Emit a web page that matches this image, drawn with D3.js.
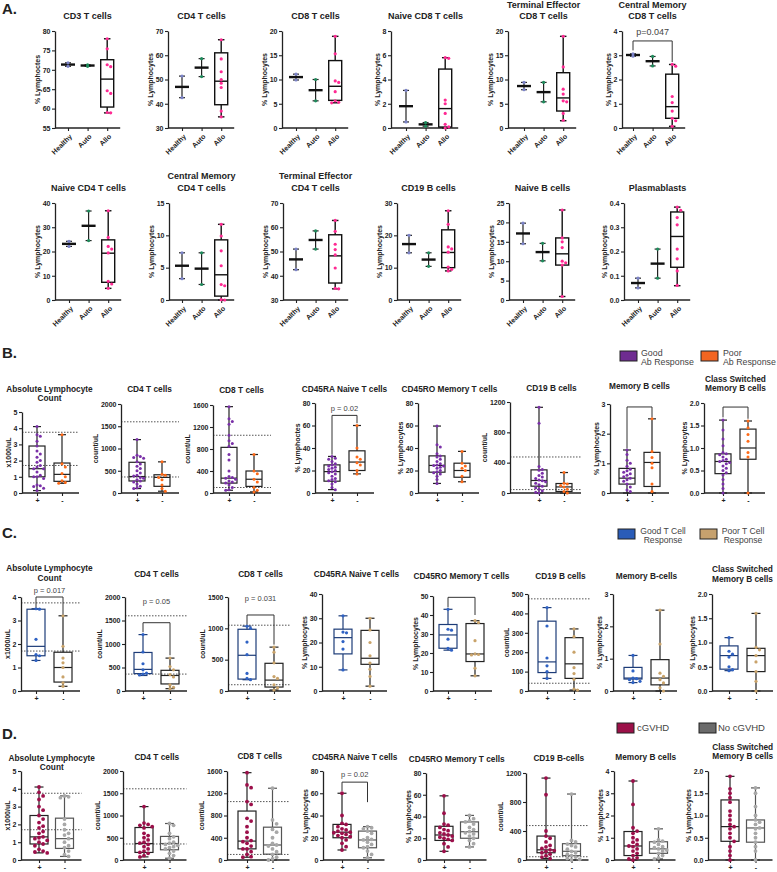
<!DOCTYPE html>
<html>
<head>
<meta charset="utf-8">
<script src="https://cdn.jsdelivr.net/npm/d3@7"></script>
<style>
  body { margin: 0; background: #fff; }
</style>
</head>
<body>
<script>
// ---------Panel A: Healthy / Auto / Allo----------

const aCats = ["Healthy", "Auto", "Allo"];
const aTitles = [["CD3 T cells"], ["CD4 T cells"], ["CD8 T cells"], ["Naive CD8 T cells"], ["Terminal Effector", "CD8 T cells"], ["Central Memory", "CD8 T cells"],
  ["Naive CD4 T cells"], ["Central Memory", "CD4 T cells"], ["Terminal Effector", "CD4 T cells"], ["CD19 B cells"], ["Naive B cells"], ["Plasmablasts"]];
const aYLabels = ["% Lymphoctes", "% Lymphocytes", "% Lymphocytes", "% Lymphocytes", "% Lymphocytes", "% Lymphocytes",
  "% Lymphocytes", "% Lymphocytes", "% Lymphocytes", "% Lymphocytes", "% Lymphocytes", "% Lymphocytes"];
const aDomains = [[55, 80], [30, 70], [0, 20], [0, 8], [0, 20], [0, 4], [0, 40], [0, 15], [30, 70], [0, 30], [0, 25], [0, 0.4]];
const aSteps = [5, 10, 5, 2, 5, 1, 10, 5, 10, 10, 5, 0.1];
const aHealthy = [[71.8, 70.9], [51.4, 42.5], [11.1, 9.9], [3.1, 0.5], [9.4, 7.9], [3.06, 2.96],
  [24.2, 22.1], [7.3, 3.3], [51, 42.5], [20, 14.6], [19.8, 14.5], [0.09, 0.05]];
const aAuto = [[71.3, 70.9], [58.6, 51.2], [10.0, 5.6], [0.45, 0.15], [9.4, 5.4], [2.95, 2.56],
  [36.7, 24.5], [7.3, 2.4], [58.5, 51], [14.6, 10.4], [14.6, 10.1], [0.21, 0.09]];
// min, q1, median, q3, max
const aAlloBox = [[58.9, 60.4, 67.6, 72.6, 78.0], [34.6, 39.6, 49.3, 61, 66.4], [5.2, 5.7, 8.6, 13.9, 18.9], [0, 0.08, 1.6, 4.86, 5.8],
  [1.5, 3.5, 6.2, 11.4, 18.9], [0.07, 0.4, 0.88, 2.22, 2.62], [4.8, 7.3, 19.3, 24.8, 36.8], [0, 0.6, 3.9, 9.3, 11.7],
  [34.6, 37, 48.2, 56.9, 62.8], [9, 10, 14.7, 21.7, 27.6], [0.9, 9, 11.9, 16, 23.2], [0.059, 0.135, 0.262, 0.363, 0.383]];
const aAllo = [[78.0, 75.4, 71.3, 70.8, 64.6, 63.9, 59.0, 58.9], [66.4, 58.5, 53.2, 50.0, 48.5, 46.7, 37.0, 34.6],
  [18.9, 15.3, 9.7, 9.4, 7.5, 5.6, 5.3, 5.2], [5.8, 5.75, 2.3, 2.0, 1.2, 0.3, 0.1, 0.0],
  [18.9, 12.6, 8.0, 7.0, 5.6, 5.4, 3.0, 1.6], [2.62, 2.55, 1.3, 1.05, 0.7, 0.4, 0.3, 0.07],
  [36.8, 25.8, 22.1, 21.0, 19.4, 7.7, 6.6, 4.8], [11.7, 9.9, 7.6, 5.3, 2.4, 2.2, 0.05, 0],
  [62.8, 58.3, 53.0, 50.8, 48.6, 43.2, 34.8, 34.6], [27.6, 23.4, 16.4, 15.8, 14.8, 10.2, 9.5, 9.0],
  [23.2, 16.0, 15.0, 13.5, 10.0, 9.6, 9.0, 0.9], [0.383, 0.37, 0.34, 0.31, 0.21, 0.17, 0.12, 0.06]];
const aBrackets = [null, null, null, null, null, { from: "Healthy", to: "Allo", y: 3.59, y1: 3.2, y2: 2.72, ty: 3.84, text: "p=0.047" },
  null, null, null, null, null, null];

// ---------Panel B: Ab response----------

const bTitles = [["Absolute Lymphocyte", "Count"], ["CD4 T cells"], ["CD8 T cells"], ["CD45RA Naive T cells"], ["CD45RO Memory T cells"], ["CD19 B cells"], ["Memory B cells"], ["Class Switched", "Memory B cells"]];
const bYLabels = ["x1000/uL", "count/uL", "count/uL", "% Lymphoctes", "% Lymphocytes", "count/uL", "% Lymphocytes", "% Lymphocytes"];
const bDomains = [[0, 5], [0, 2000], [0, 1600], [0, 80], [0, 80], [0, 1200], [0, 3], [0, 2]];
const bSteps = [1, 500, 400, 20, 20, 400, 1, 0.5];
const bRefLines = [[3.75, 1.7], [1600, 360], [1050, 100], [], [], [475, 45], [], []];
const bGoodBox = [[0.15, 1.0, 1.5, 2.9, 4.1], [100, 270, 370, 690, 1200], [50, 180, 270, 830, 1570], [3, 10.5, 19, 25, 32.5],
  [8.5, 18.5, 24.5, 33, 59.5], [0, 90, 165, 305, 1130], [0, 0.3, 0.5, 0.83, 1.45], [0, 0.43, 0.7, 0.87, 1.62]];
const bGoodPts = [
  [4.1, 3.6, 3.5, 3.2, 2.9, 2.6, 2.4, 2.2, 2.0, 1.9, 1.7, 1.6, 1.5, 1.5, 1.3, 1.1, 1.0, 1.0, 0.9, 0.5, 0.45, 0.4, 0.3, 0.15],
  [1200, 850, 820, 800, 780, 700, 650, 600, 550, 500, 450, 400, 380, 350, 330, 300, 270, 250, 200, 150, 120, 100],
  [1570, 1350, 1300, 1250, 1050, 950, 900, 850, 700, 600, 400, 300, 280, 270, 250, 220, 200, 180, 150, 100, 60, 50],
  [32.5, 31, 30, 28, 26, 25, 24, 23, 22, 21, 20, 19, 18, 17, 15, 13, 12, 11, 10, 8, 5, 3],
  [59.5, 43, 41, 35, 33, 32, 30, 28, 26, 25, 24.5, 24, 23, 22, 20, 19, 18, 17, 15, 12, 8.5],
  [1130, 920, 350, 310, 300, 260, 230, 210, 190, 170, 160, 150, 130, 110, 90, 70, 50, 30, 10, 0],
  [1.45, 1.3, 1.1, 1.0, 0.9, 0.8, 0.75, 0.7, 0.65, 0.6, 0.55, 0.5, 0.45, 0.4, 0.3, 0.2, 0.1, 0.05],
  [1.62, 1.4, 1.2, 1.05, 0.9, 0.87, 0.85, 0.8, 0.75, 0.72, 0.7, 0.68, 0.65, 0.6, 0.55, 0.5, 0.45, 0.4, 0.3, 0.2, 0.1, 0]];
const bPoorBox = [[0.6, 0.72, 1.15, 1.85, 3.6], [40, 150, 350, 410, 700], [20, 120, 250, 400, 700], [17, 20, 27.5, 37.5, 60],
  [10, 14, 20, 26.5, 37], [0, 20, 80, 125, 270], [0, 0.22, 1.03, 1.37, 2.5], [0, 0.75, 1.0, 1.42, 1.6]];
const bPoorPts = [[3.6, 1.8, 1.6, 1.2, 1.0, 0.75, 0.65, 0.6], [700, 420, 400, 350, 300, 180, 100, 40], [700, 400, 350, 250, 200, 100, 50, 20],
  [60, 40, 32, 30, 27, 25, 20, 17], [37, 26.5, 24, 22, 20, 15, 10], [270, 130, 120, 100, 80, 50, 20, 0],
  [2.5, 1.4, 1.2, 1.0, 0.85, 0.3, 0.05], [1.6, 1.45, 1.3, 1.15, 0.9, 0.8, 0]];
const bBrackets = [null, null, null, { y: 69, y1: 34, y2: 62, ty: 72.9, text: "p = 0.02" }, null, null,
  { y: 2.9, y1: 1.5, y2: 2.55, ty: 0, text: "" }, { y: 1.91, y1: 1.68, y2: 1.65, ty: 0, text: "" }];

// ---------Panel C: T cell response----------

const cTitles = [["Absolute Lymphocyte", "Count"], ["CD4 T cells"], ["CD8 T cells"], ["CD45RA Naive T cells"], ["CD45RO Memory T cells"], ["CD19 B cells"], ["Memory B-cells"], ["Class Switched", "Memory B cells"]];
const cYLabels = ["x1000/uL", "count/uL", "count/uL", "% Lymphocytes", "% Lymphocytes", "count/uL", "% Lymphocytes", "% Lymphocytes"];
const cDomains = [[0, 4], [0, 2000], [0, 1500], [0, 40], [0, 50], [0, 500], [0, 3], [0, 2]];
const cSteps = [1, 500, 500, 10, 10, 100, 1, 0.5];
const cRefLines = [[3.75, 1.7], [1600, 360], [1050, 100], [], [], [475, 40], [], []];
const cGoodBox = [[1.3, 1.5, 1.9, 3.48, 3.5], [330, 370, 460, 820, 1200], [180, 190, 570, 985, 1035], [8.7, 15.3, 22, 25.5, 31],
  [21.5, 22.5, 29.5, 35, 43], [65, 95, 150, 360, 430], [0.26, 0.37, 0.4, 0.73, 1.1], [0.42, 0.45, 0.73, 0.93, 1.1]];
const cGoodPts = [[3.5, 3.48, 2.2, 1.55, 1.5, 1.3], [1200, 830, 580, 450, 380, 360, 340], [1035, 1000, 780, 580, 280, 200, 180],
  [31, 24.3, 24.0, 20.4, 17.3, 8.7], [43, 32.5, 32, 27.3, 22.4, 21.5], [430, 335, 170, 130, 100, 65],
  [1.1, 0.62, 0.4, 0.38, 0.35, 0.3, 0.26], [1.1, 0.82, 0.76, 0.7, 0.5, 0.44, 0.42]];
const cPoorBox = [[0.2, 0.38, 1.0, 1.65, 3.2], [50, 150, 330, 440, 700], [16, 63, 174, 442, 700], [2, 11, 13.5, 25, 30],
  [8, 15.5, 19.5, 35.5, 37], [5, 65, 140, 275, 320], [0, 0.19, 0.4, 0.97, 2.5], [0, 0.4, 0.73, 0.88, 1.6]];
const cPoorPts = [[3.2, 1.9, 1.4, 1.2, 1.0, 0.6, 0.35, 0.2], [700, 520, 450, 350, 300, 130, 80, 50], [700, 620, 450, 230, 200, 100, 50, 16],
  [30, 25.2, 20, 14.5, 11.5, 9, 6, 2], [37, 36, 26.5, 19.5, 19.2, 19, 12, 8], [320, 280, 200, 120, 90, 60, 10, 5],
  [2.5, 1.45, 0.55, 0.45, 0.35, 0.25, 0.1, 0], [1.6, 0.9, 0.85, 0.73, 0.6, 0.4, 0.2, 0]];
const cBrackets = [{ y: 4.0, y1: 3.55, y2: 3.25, ty: 4.17, text: "p = 0.017" }, { y: 1453, y1: 1250, y2: 760, ty: 1851, text: "p = 0.05" },
  { y: 1213, y1: 1060, y2: 740, ty: 1436, text: "p = 0.031" }, null, { y: 49.3, y1: 44, y2: 40, ty: 0, text: "" }, null, null, null];

// ---------Panel D: cGVHD----------

const dTitles = [["Absolute Lymphocyte", "Count"], ["CD4 T cells"], ["CD8 T cells"], ["CD45RA Naive T cells"], ["CD45RO Memory T cells"], ["CD19 B-cells"], ["Memory B cells"], ["Class Switched", "Memory B cells"]];
const dYLabels = ["x1000/uL", "count/uL", "count/uL", "% Lymphocytes", "% Lymphocytes", "count/uL", "% Lymphocytes", "% Lymphocytes"];
const dDomains = [[0, 5], [0, 2000], [0, 1600], [0, 80], [0, 80], [0, 1200], [0, 4], [0, 2]];
const dSteps = [1, 500, 400, 20, 20, 400, 1, 0.5];
const dRefLines = [[3.75, 1.7], [1600, 360], [1050, 100], [], [], [475, 45], [], []];
const dGvhdBox = [[0.4, 0.9, 1.3, 2.5, 4.1], [70, 170, 370, 730, 1200], [50, 200, 340, 880, 1570], [9, 20, 25, 32, 60],
  [8, 18, 23, 31, 59], [20, 100, 140, 330, 1130], [0, 0.2, 0.63, 1.28, 3.55], [0, 0.42, 0.75, 1.35, 1.88]];
const dGvhdPts = [
  [4.1, 3.8, 3.6, 3.4, 3.0, 2.8, 2.5, 2.3, 2.1, 1.9, 1.8, 1.6, 1.5, 1.3, 1.25, 1.2, 1.1, 1.0, 0.9, 0.8, 0.6, 0.5, 0.45, 0.4],
  [1200, 830, 800, 780, 750, 720, 600, 550, 500, 450, 400, 380, 350, 300, 250, 200, 170, 150, 100, 70],
  [1570, 1350, 1300, 1050, 1000, 750, 700, 600, 500, 400, 350, 330, 300, 250, 200, 200, 150, 100, 60, 50],
  [60, 40, 33, 32, 30, 28, 27, 26, 25, 24.5, 24, 23, 22, 21, 20, 18, 15, 12, 9],
  [59, 43, 33, 32, 30, 28, 27, 25, 24, 23, 22, 21, 20, 19, 18, 15, 12, 8],
  [1130, 900, 400, 330, 300, 250, 200, 180, 160, 140, 130, 120, 100, 80, 60, 40, 20],
  [3.55, 2.5, 1.45, 1.3, 1.2, 1.0, 0.9, 0.8, 0.7, 0.63, 0.6, 0.5, 0.4, 0.3, 0.2, 0.1, 0.05, 0],
  [1.88, 1.6, 1.5, 1.4, 1.3, 1.1, 1.0, 0.9, 0.8, 0.75, 0.7, 0.6, 0.5, 0.42, 0.3, 0.2, 0.1, 0]];
const dNoBox = [[0.2, 0.65, 1.2, 2.35, 3.6], [40, 230, 370, 530, 820], [0, 105, 270, 590, 1290], [2, 11, 18, 26, 30],
  [12, 20, 26, 35, 41], [0, 60, 120, 225, 910], [0.05, 0.3, 0.5, 0.82, 1.4], [0, 0.4, 0.72, 0.9, 1.62]];
const dNoPts = [
  [3.6, 3.55, 3.5, 2.3, 2.0, 1.7, 1.5, 1.4, 1.2, 1.0, 0.8, 0.7, 0.5, 0.3, 0.2],
  [820, 780, 600, 520, 480, 400, 380, 350, 330, 300, 280, 250, 200, 150, 100, 40],
  [1290, 720, 650, 550, 500, 400, 300, 270, 250, 200, 150, 100, 50, 20, 0],
  [30, 29, 28, 26, 24, 20, 18.5, 18, 16, 14, 12, 11, 8, 5, 2],
  [41, 38, 36, 35, 33, 30, 28, 26, 25, 24, 22, 20, 18, 15, 12],
  [910, 270, 250, 220, 200, 180, 150, 120, 100, 80, 60, 40, 20, 10, 0],
  [1.4, 0.9, 0.85, 0.8, 0.7, 0.6, 0.55, 0.5, 0.45, 0.4, 0.3, 0.2, 0.1, 0.05],
  [1.62, 1.5, 1.2, 1.0, 0.9, 0.85, 0.8, 0.72, 0.7, 0.6, 0.5, 0.4, 0.3, 0.2, 0]];
const dBrackets = [null, null, null, { y: 70, y1: 62, y2: 52, ty: 74.5, text: "p = 0.02" }, null, null, null, null];

// ---------Layout----------

const FONT = '"Liberation Sans", Arial, Helvetica, sans-serif';
const INK = "#222";

const svg = d3.select("body")
  .append("svg")
  .attr("width", 777)
  .attr("height", 872)
  .style("font-family", FONT);

function drawTitle(g, lines, cx, base, lh, size) {
  lines.forEach((t, k) => {
    g.append("text")
      .attr("x", cx)
      .attr("y", base - (lines.length - 1 - k) * lh)
      .attr("text-anchor", "middle")
      .attr("font-weight", "bold")
      .attr("font-size", size)
      .attr("fill", INK)
      .text(t);
  });
}

function yAxis(g, y, x0, domain, step, label) {
  const ticks = d3.range(domain[0], domain[1] + step / 2, step);
  const fmt = step < 1 ? d3.format(".1f") : d3.format("d");
  const ax = g.append("g")
    .attr("transform", `translate(${x0},0)`)
    .call(d3.axisLeft(y).tickValues(ticks).tickFormat(fmt).tickSize(3).tickSizeOuter(0))
    .attr("font-family", FONT)
    .attr("font-size", 7)
    .attr("font-weight", "bold");
  ax.select(".domain").attr("stroke", INK).attr("stroke-width", 1.3);
  ax.selectAll(".tick line").attr("stroke", INK).attr("stroke-width", 1.1);
  ax.selectAll(".tick text").attr("fill", INK).attr("x", -4.5);
  const bb = ax.node().getBBox();
  g.append("text")
    .attr("transform", `translate(${x0 + bb.x - 3},${(y.range()[0] + y.range()[1]) / 2}) rotate(-90)`)
    .attr("text-anchor", "middle")
    .attr("font-weight", "bold")
    .attr("font-size", 7)
    .attr("fill", INK)
    .text(label);
}

function xAxis(g, x, x0, xEnd, bottom, rotated) {
  const ax = g.append("g")
    .attr("transform", `translate(0,${bottom})`)
    .call(d3.axisBottom(x).tickSize(3).tickSizeOuter(0))
    .attr("font-family", FONT)
    .attr("font-size", 7)
    .attr("font-weight", "bold");
  ax.select(".domain").remove();
  ax.selectAll(".tick line").attr("stroke", INK).attr("stroke-width", 1.1);
  ax.selectAll(".tick text").attr("fill", INK);
  if (rotated) {
    ax.selectAll(".tick text")
      .attr("x", 0).attr("y", 0).attr("dy", 0)
      .attr("transform", "translate(4,9) rotate(-45)")
      .attr("text-anchor", "end");
  } else {
    ax.selectAll(".tick text").attr("y", 5);
  }
  g.append("line")
    .attr("x1", x0).attr("x2", xEnd)
    .attr("y1", bottom).attr("y2", bottom)
    .attr("stroke", INK).attr("stroke-width", 1.3);
}

function drawBox(g, cx, y, s, bw, stroke, sw) {
  const [mn, q1, md, q3, mx] = s;
  const cap = bw * 0.5;
  const st = sel => sel.attr("stroke", stroke).attr("stroke-width", sw).attr("fill", "none");
  st(g.append("line").attr("x1", cx).attr("x2", cx).attr("y1", y(q3)).attr("y2", y(mx)));
  st(g.append("line").attr("x1", cx).attr("x2", cx).attr("y1", y(q1)).attr("y2", y(mn)));
  [mx, mn].forEach(v => st(g.append("line").attr("x1", cx - cap / 2).attr("x2", cx + cap / 2).attr("y1", y(v)).attr("y2", y(v))));
  st(g.append("rect").attr("x", cx - bw / 2).attr("y", y(q3)).attr("width", bw).attr("height", y(q1) - y(q3)));
  st(g.append("line").attr("x1", cx - bw / 2).attr("x2", cx + bw / 2).attr("y1", y(md)).attr("y2", y(md)));
}

// simple deterministic dodge so equal values sit side by side
function dodge(vals, y, cx, r, maxOff) {
  const placed = [];
  const gap = 2 * r + 0.3;
  return vals.map(v => {
    const py = y(v);
    let off = 0;
    for (let k = 0; k < 24; k++) {
      const cand = k === 0 ? 0 : (k % 2 ? 1 : -1) * Math.ceil(k / 2) * gap;
      if (Math.abs(cand) > maxOff) break;
      if (placed.every(p => Math.hypot(p[0] - cand, p[1] - py) >= gap)) { off = cand; break; }
    }
    placed.push([off, py]);
    return [cx + off, py];
  });
}

function drawPoints(g, vals, y, cx, r, maxOff, color) {
  g.selectAll(null)
    .data(dodge(vals, y, cx, r, maxOff))
    .enter()
    .append("circle")
    .attr("cx", d => d[0])
    .attr("cy", d => d[1])
    .attr("r", r)
    .attr("fill", color);
}

function drawBracket(g, x1, x2, y, b, size) {
  g.append("path")
    .attr("d", `M${x1},${y(b.y1)}V${y(b.y)}H${x2}V${y(b.y2)}`)
    .attr("fill", "none")
    .attr("stroke", "#333")
    .attr("stroke-width", 1);
  if (b.text) {
    g.append("text")
      .attr("x", (x1 + x2) / 2)
      .attr("y", y(b.ty))
      .attr("text-anchor", "middle")
      .attr("font-size", size)
      .attr("fill", "#444")
      .text(b.text);
  }
}

function panelLabel(t, yb) {
  svg.append("text").attr("x", 2).attr("y", yb)
    .attr("font-size", 15).attr("font-weight", "bold").attr("fill", INK).text(t);
}

// ---------Draw panel A----------

const aAxisX = [55, 168, 282, 391, 508, 622, 55, 169, 283, 397, 509, 624];
const aFirstX = [68, 182, 296, 406, 524, 633, 69, 182, 296, 409, 523, 638];
const aStep = 19.6;
const aTop = [31, 203], aBottom = [128, 300], aTitleBase = [18.5, 190.5];
const aColors = { Healthy: "#7c84c9", Auto: "#1f8b5c", Allo: "#ff2a93" };

panelLabel("A.", 14);

aTitles.forEach((title, i) => {
  const row = i < 6 ? 0 : 1;
  const g = svg.append("g");
  const x = d3.scalePoint().domain(aCats).range([aFirstX[i], aFirstX[i] + 2 * aStep]);
  const y = d3.scaleLinear().domain(aDomains[i]).range([aBottom[row], aTop[row]]);

  drawTitle(g, title, x("Auto"), aTitleBase[row], row === 0 ? 11 : 11.5, 9);
  yAxis(g, y, aAxisX[i], aDomains[i], aSteps[i], aYLabels[i]);
  xAxis(g, x, aAxisX[i], x("Allo") + 13, aBottom[row], true);

  // mean with range for the two-sample groups
  [["Healthy", aHealthy[i]], ["Auto", aAuto[i]]].forEach(([cat, vals]) => {
    const cx = x(cat);
    const lo = d3.min(vals), hi = d3.max(vals), m = d3.mean(vals);
    g.append("line").attr("x1", cx).attr("x2", cx).attr("y1", y(lo)).attr("y2", y(hi)).attr("stroke", INK).attr("stroke-width", 1.2);
    [lo, hi].forEach(v => g.append("line").attr("x1", cx - 3).attr("x2", cx + 3).attr("y1", y(v)).attr("y2", y(v)).attr("stroke", INK).attr("stroke-width", 1.2));
    g.append("line").attr("x1", cx - 7).attr("x2", cx + 7).attr("y1", y(m)).attr("y2", y(m)).attr("stroke", "#111").attr("stroke-width", 2.4);
    drawPoints(g, vals, y, cx, 1.6, 3, aColors[cat]);
  });

  drawBox(g, x("Allo"), y, aAlloBox[i], 13, "#111", 1.4);
  drawPoints(g, aAllo[i], y, x("Allo"), 1.6, 5, aColors.Allo);

  if (aBrackets[i]) {
    const b = aBrackets[i];
    drawBracket(g, x(b.from), x(b.to), y, b, 9);
  }
});

// ---------Draw panels B, C, D----------

function groupPanel(P) {
  P.titles.forEach((title, i) => {
    const g = svg.append("g");
    const y = d3.scaleLinear().domain(P.domains[i]).range([P.bottom, P.tops[i]]);
    const x = d3.scalePoint().domain(["+", "-"]).range([P.plusX[i], P.plusX[i] + P.step]);
    const xEnd = x("-") + 17;

    drawTitle(g, title, (x("+") + x("-")) / 2, P.titleBase[i], P.lh, 8.3);

    P.refs[i].forEach(v => {
      g.append("line")
        .attr("x1", P.axisX[i]).attr("x2", xEnd)
        .attr("y1", y(v)).attr("y2", y(v))
        .attr("stroke", "#555").attr("stroke-width", 1)
        .attr("stroke-dasharray", "1.5,1.5");
    });

    drawBox(g, x("+"), y, P.box1[i], P.bw, P.stroke1, 1.2);
    drawBox(g, x("-"), y, P.box2[i], P.bw, P.stroke2, 1.2);

    yAxis(g, y, P.axisX[i], P.domains[i], P.steps[i], P.yLabels[i]);
    xAxis(g, x, P.axisX[i], xEnd, P.bottom, false);

    drawPoints(g, P.pts1[i], y, x("+"), P.r, P.bw / 2, P.col1);
    drawPoints(g, P.pts2[i], y, x("-"), P.r, P.bw / 2, P.col2);

    if (P.brackets[i]) drawBracket(g, x("+"), x("-"), y, P.brackets[i], 7.5);
  });
}

function legendItem(x, y, fill, lines, anchorX, anchor, base, lh, size) {
  svg.append("rect").attr("x", x).attr("y", y).attr("width", 17).attr("height", 10)
    .attr("fill", fill).attr("stroke", INK).attr("stroke-width", 1);
  lines.forEach((t, k) => {
    svg.append("text").attr("x", anchorX).attr("y", base + k * lh)
      .attr("text-anchor", anchor).attr("font-size", size).attr("fill", "#444").text(t);
  });
}

// B
panelLabel("B.", 358);
legendItem(620, 351, "#6f2c91", ["Good", "Ab Response"], 641, "start", 356, 9, 8.8);
legendItem(701, 351, "#f26522", ["Poor", "Ab Response"], 723, "start", 356, 9, 8.8);
groupPanel({
  titles: bTitles, yLabels: bYLabels, domains: bDomains, steps: bSteps, refs: bRefLines,
  box1: bGoodBox, pts1: bGoodPts, box2: bPoorBox, pts2: bPoorPts, brackets: bBrackets,
  axisX: [22, 121, 213, 315, 418, 510, 610, 704], plusX: [37, 137, 229, 332, 437, 539, 627, 723], step: 25,
  tops: [412, 404, 405, 403, 403, 402, 404, 403], bottom: 493,
  titleBase: [401, 392, 393, 392, 392, 391, 389, 391], lh: 9.5,
  col1: "#7a30a8", col2: "#ff6a17", stroke1: "#222", stroke2: "#222", r: 1.5, bw: 16
});

// C
panelLabel("C.", 538);
legendItem(618, 529, "#2a5cb8", ["Good T Cell", "Response"], 663, "middle", 534, 9, 8.6);
legendItem(700, 529, "#c6a16e", ["Poor T Cell", "Response"], 743, "middle", 534, 9, 8.6);
groupPanel({
  titles: cTitles, yLabels: cYLabels, domains: cDomains, steps: cSteps, refs: cRefLines,
  box1: cGoodBox, pts1: cGoodPts, box2: cPoorBox, pts2: cPoorPts, brackets: cBrackets,
  axisX: [21, 125, 228, 322, 433, 528, 613, 712], plusX: [36, 143, 247, 343, 448, 547, 633, 729], step: 27,
  tops: [597, 597, 597, 594, 596, 594, 594, 594], bottom: 691,
  titleBase: [581, 577, 577, 577, 579, 579, 579, 582], lh: 10,
  col1: "#2f62c4", col2: "#c9a36a", stroke1: "#1d3c78", stroke2: "#222", r: 1.6, bw: 18
});

// D
panelLabel("D.", 739);
legendItem(617, 723, "#9b1048", ["cGVHD"], 637, "start", 730.5, 9, 9.5);
legendItem(699, 723, "#6b6b6b", ["No cGVHD"], 718, "start", 730.5, 9, 9.5);
groupPanel({
  titles: dTitles, yLabels: dYLabels, domains: dDomains, steps: dSteps, refs: dRefLines,
  box1: dGvhdBox, pts1: dGvhdPts, box2: dNoBox, pts2: dNoPts, brackets: dBrackets,
  axisX: [21, 123, 227, 323, 426, 526, 614, 708], plusX: [39, 144, 247, 342, 444, 546, 633, 730], step: 25.5,
  tops: [771, 771, 771, 771, 773, 773, 771, 771], bottom: 860,
  titleBase: [770, 760, 759, 760, 762, 761, 760, 759], lh: 9.5,
  col1: "#9c0f4a", col2: "#a8a8a8", stroke1: "#222", stroke2: "#555", r: 1.9, bw: 18
});
</script>
</body>
</html>
